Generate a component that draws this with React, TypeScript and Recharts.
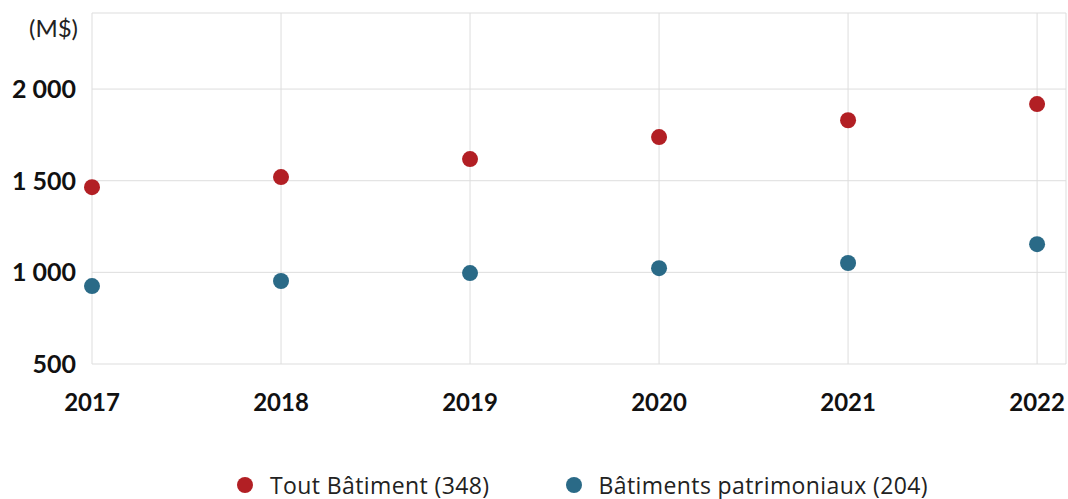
import React from "react"
import { ScatterChart, Scatter, XAxis, YAxis, CartesianGrid, Legend } from "recharts"

const YEARS = [2017, 2018, 2019, 2020, 2021, 2022]
const TOUT_BATIMENT = [1465, 1520, 1618, 1738, 1830, 1918]
const PATRIMONIAUX = [925, 953, 996, 1023, 1051, 1154]
const Y_TICKS = [500, 1000, 1500, 2000]

const SERIES = [
  { name: "Tout Bâtiment (348)", color: "#b21f24", values: TOUT_BATIMENT },
  { name: "Bâtiments patrimoniaux (204)", color: "#2a6a87", values: PATRIMONIAUX },
]

const FONT = "Lato, 'Open Sans', sans-serif"

const fmt = (v: number) => (v >= 1000 ? `${Math.floor(v / 1000)} ${String(v % 1000).padStart(3, "0")}` : String(v))

const Dot = (props: any) => {
  const { cx, cy, fill } = props
  return <circle cx={cx} cy={cy} r={8} fill={fill} />
}

const LegendContent = () => (
  <div style={{ display: "flex", justifyContent: "flex-start", paddingLeft: 237, fontFamily: "'Open Sans', sans-serif", fontSize: 23, letterSpacing: 0.4, color: "#222", lineHeight: "26px", height: 26 }}>
    {SERIES.map((s, i) => (
      <div key={s.name} style={{ display: "flex", alignItems: "center", marginRight: i === 0 ? 76 : 0 }}>
        <span style={{ width: 16, height: 16, borderRadius: 8, background: s.color, display: "inline-block", marginRight: 17 }} />
        <span>{s.name}</span>
      </div>
    ))}
  </div>
)

export default function App() {
  return (
    <div style={{ position: "absolute", left: 0, top: 0, width: 1068, height: 499, background: "#fff" }}>
      <div style={{ position: "absolute", right: 1068 - 78, top: 13, fontFamily: FONT, fontSize: 24, color: "#222" }}>(M$)</div>
      <ScatterChart width={1068} height={499} margin={{ top: 13, right: 2, left: 0, bottom: 54 }}>
        <CartesianGrid stroke="#dddddd" strokeWidth={1} />
        <XAxis
          type="number"
          dataKey="x"
          domain={[2017, 2022.153]}
          ticks={YEARS}
          axisLine={false}
          tickLine={false}
          tickSize={0}
          tickMargin={30}
          height={55}
          interval={0}
          tick={{ fontFamily: FONT, fontSize: 24, fontWeight: 700, fill: "#111" }}
        />
        <YAxis
          type="number"
          dataKey="y"
          domain={[500, 2415]}
          ticks={Y_TICKS}
          axisLine={false}
          tickLine={false}
          tickSize={0}
          tickMargin={16}
          width={92}
          tickFormatter={fmt}
          tick={{ fontFamily: FONT, fontSize: 25, fontWeight: 700, fill: "#111" }}
        />
        <Legend verticalAlign="bottom" height={26} content={<LegendContent />} wrapperStyle={{ top: 472, bottom: "auto", height: 26 }} />
        {SERIES.map((s) => (
          <Scatter
            key={s.name}
            name={s.name}
            data={YEARS.map((y, i) => ({ x: y, y: s.values[i] }))}
            fill={s.color}
            shape={<Dot />}
            isAnimationActive={false}
          />
        ))}
      </ScatterChart>
    </div>
  )
}
